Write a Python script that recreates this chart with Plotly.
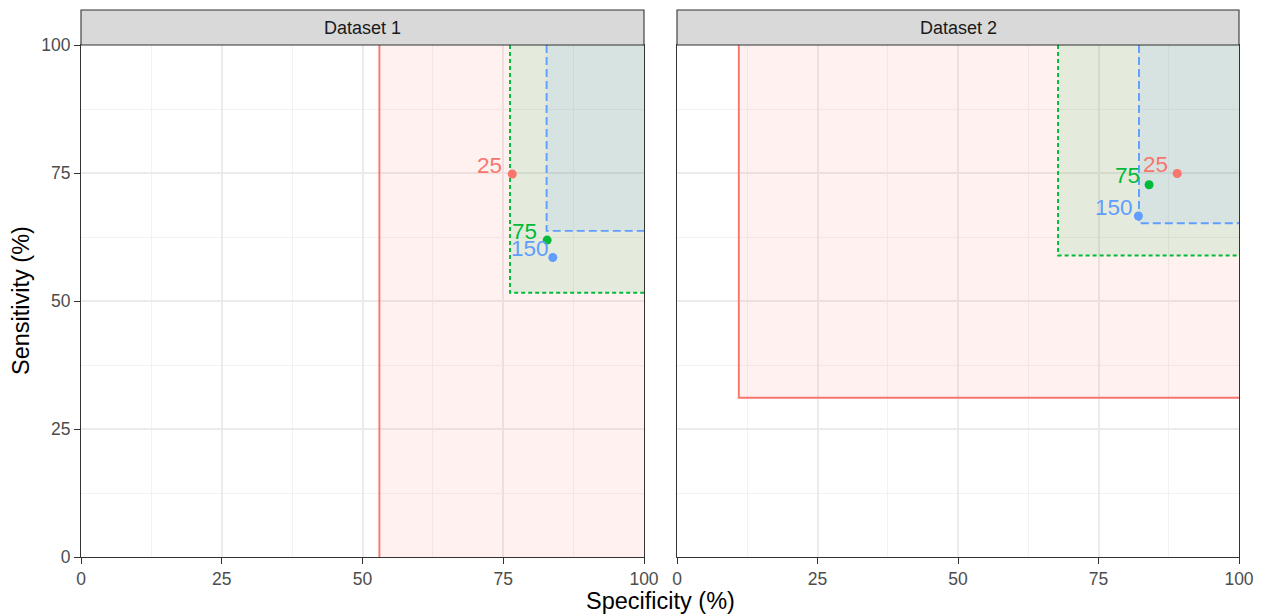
import plotly.graph_objects as go

# ---------------- data ----------------
datasets = ["Dataset 1", "Dataset 2"]
sizes = ["25", "75", "150"]
colors = ["#F8766D", "#00BA38", "#619CFF"]
dashes = ["solid", "4px,3px", "8px,4px"]

# point estimates (specificity, sensitivity) per dataset, per sample size
spec_point = {"Dataset 1": [76.6, 82.8, 83.8], "Dataset 2": [89.0, 84.0, 82.1]}
sens_point = {"Dataset 1": [74.8, 61.9, 58.5], "Dataset 2": [74.9, 72.7, 66.6]}
# lower bounds of the regions (upper bounds = 100)
spec_lower = {"Dataset 1": [53.0, 76.2, 82.7], "Dataset 2": [11.0, 67.8, 82.2]}
sens_lower = {"Dataset 1": [-5.0, 51.6, 63.7], "Dataset 2": [31.1, 58.9, 65.2]}
upper = 100

# label pixel offsets (style only)
label_dx = {"Dataset 1": [-8, -8, -2], "Dataset 2": [-7, -7, -3]}
label_dy = [9, 9, 9]

ticks = [0, 25, 50, 75, 100]
minor_ticks = [12.5, 37.5, 62.5, 87.5]

FONT = "Liberation Sans, Arial, sans-serif"


def rgba(hexc, a):
    h = hexc.lstrip("#")
    r, g, b = int(h[0:2], 16), int(h[2:4], 16), int(h[4:6], 16)
    return f"rgba({r},{g},{b},{a})"


fig = go.Figure()
annotations = []
axes = [("x", "y"), ("x2", "y2")]

for d, (xa, ya) in zip(datasets, axes):
    for i, s in enumerate(sizes):
        lo_x = spec_lower[d][i]
        lo_y = sens_lower[d][i]
        # filled region
        fig.add_trace(go.Scatter(
            x=[lo_x, upper, upper, lo_x, lo_x],
            y=[lo_y, lo_y, upper, upper, lo_y],
            mode="lines", fill="toself", fillcolor=rgba(colors[i], 0.1),
            line=dict(width=0), hoverinfo="skip", showlegend=False,
            xaxis=xa, yaxis=ya))
        # outline (left & bottom edges)
        fig.add_trace(go.Scatter(
            x=[lo_x, lo_x, upper],
            y=[upper, lo_y, lo_y],
            mode="lines", line=dict(color=colors[i], width=1.9, dash=dashes[i]),
            hoverinfo="skip", showlegend=False, xaxis=xa, yaxis=ya))
    # points
    for i, s in enumerate(sizes):
        fig.add_trace(go.Scatter(
            x=[spec_point[d][i]], y=[sens_point[d][i]], mode="markers",
            marker=dict(color=colors[i], size=9), showlegend=False,
            name=s, xaxis=xa, yaxis=ya))
        annotations.append(dict(
            x=spec_point[d][i], y=sens_point[d][i], xref=xa, yref=ya,
            text=s, showarrow=False, xanchor="right", yanchor="middle",
            xshift=label_dx[d][i], yshift=label_dy[i],
            font=dict(family=FONT, size=22.5, color=colors[i])))

dom1 = [0, 563 / 1158]
dom2 = [596 / 1158, 1]

axis_common = dict(
    range=[0, 100], tickvals=ticks, showgrid=True, gridcolor="#EBEBEB",
    gridwidth=1.5, zeroline=False, showline=True, mirror=True,
    linecolor="#333333", linewidth=1.1, ticks="outside", ticklen=6,
    tickwidth=1.1, tickcolor="#333333",
    tickfont=dict(family=FONT, size=17.5, color="#4D4D4D"),
    minor=dict(tickvals=minor_ticks, showgrid=True, gridcolor="#F2F2F2",
               gridwidth=1, ticks=""),
    fixedrange=True,
)

fig.update_layout(
    width=1265, height=616,
    margin=dict(l=81, r=26, t=45, b=59),
    paper_bgcolor="white", plot_bgcolor="white",
    xaxis=dict(domain=dom1, anchor="y", **axis_common),
    xaxis2=dict(domain=dom2, anchor="y2", **axis_common),
    yaxis=dict(domain=[0, 1], anchor="x", **axis_common),
    yaxis2=dict(domain=[0, 1], anchor="x2", matches="y", **{**axis_common, "showticklabels": False, "ticks": ""}),
    showlegend=False,
)

# facet strips
strip_top = 1 + 35 / 512
shapes = []
for d, dom in zip(datasets, [dom1, dom2]):
    shapes.append(dict(type="rect", xref="paper", yref="paper",
                       x0=dom[0], x1=dom[1], y0=1, y1=strip_top,
                       fillcolor="#D9D9D9", line=dict(color="#333333", width=1.1),
                       layer="above"))
    annotations.append(dict(x=(dom[0] + dom[1]) / 2, y=(1 + strip_top) / 2,
                            xref="paper", yref="paper", text=d, showarrow=False,
                            xanchor="center", yanchor="middle",
                            font=dict(family=FONT, size=18, color="#1A1A1A")))

# axis titles
annotations.append(dict(x=0.5, y=-44 / 512, xref="paper", yref="paper",
                        text="Specificity (%)", showarrow=False,
                        xanchor="center", yanchor="middle",
                        font=dict(family=FONT, size=23.5, color="black")))
annotations.append(dict(x=-60 / 1158, y=0.5, xref="paper", yref="paper",
                        text="Sensitivity (%)", showarrow=False, textangle=-90,
                        xanchor="center", yanchor="middle",
                        font=dict(family=FONT, size=23.5, color="black")))

fig.update_layout(shapes=shapes, annotations=annotations)
fig.write_html("out.html")
